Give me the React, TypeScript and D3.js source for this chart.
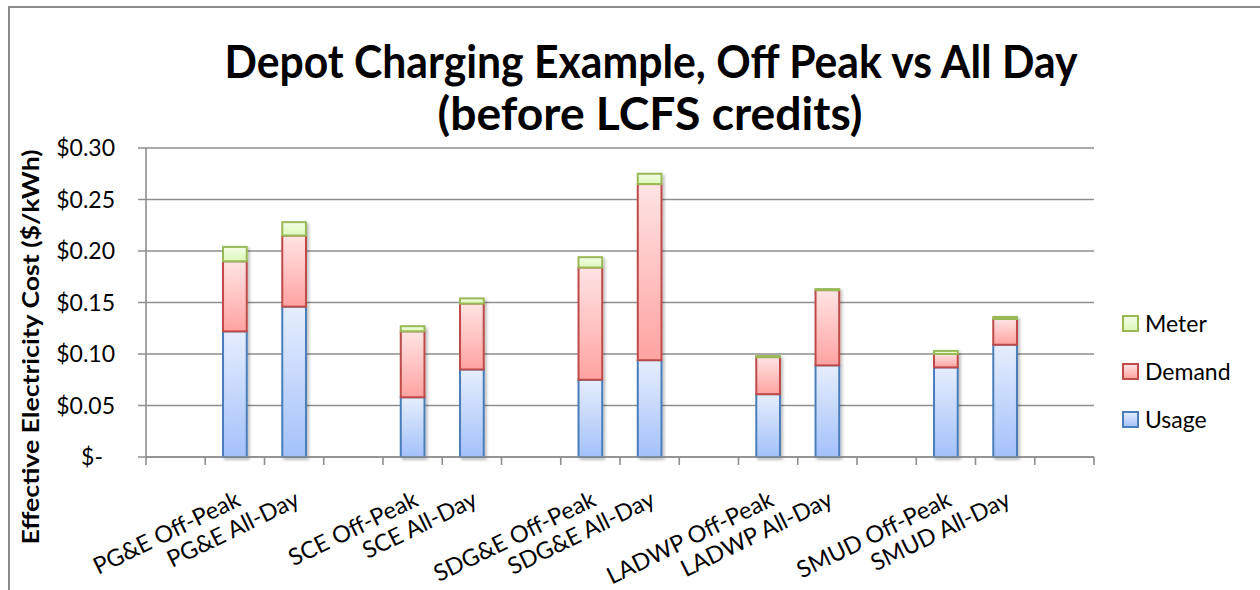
import React, { useEffect, useRef } from 'react';
import * as d3 from 'd3';

// categories, blank ones are the gaps between utilities
const categories = [
  '',
  'PG&E Off-Peak',
  'PG&E All-Day',
  '',
  'SCE Off-Peak',
  'SCE All-Day',
  '',
  'SDG&E Off-Peak',
  'SDG&E All-Day',
  '',
  'LADWP Off-Peak',
  'LADWP All-Day',
  '',
  'SMUD Off-Peak',
  'SMUD All-Day',
  '',
];

const usage = [null, 0.122, 0.146, null, 0.058, 0.085, null, 0.075, 0.094, null, 0.061, 0.089, null, 0.087, 0.109, null];
const demand = [null, 0.068, 0.069, null, 0.064, 0.064, null, 0.109, 0.171, null, 0.036, 0.073, null, 0.013, 0.025, null];
const meter = [null, 0.014, 0.013, null, 0.005, 0.005, null, 0.01, 0.01, null, 0.001, 0.001, null, 0.003, 0.002, null];

const seriesNames = ['Usage', 'Demand', 'Meter'];
const yTicks = [0, 0.05, 0.1, 0.15, 0.2, 0.25, 0.3];

const titleLines = ['Depot Charging Example, Off Peak vs All Day', '(before LCFS credits)'];
const yAxisTitle = 'Effective Electricity Cost ($/kWh)';

const colors = {
  Usage: { stroke: '#4a7ebb', top: '#e6eefd', bottom: '#a3c1fa' },
  Demand: { stroke: '#be4b48', top: '#ffe4e4', bottom: '#ffa3a1' },
  Meter: { stroke: '#98b954', top: '#f3fde8', bottom: '#dcf9b8' },
};

const FONT = "Lato, 'Open Sans', sans-serif";

const App = () => {
  const chartRef = useRef(null);

  useEffect(() => {
    if (!chartRef.current) return;
    d3.select(chartRef.current).selectAll('*').remove();

    const width = 1260;
    const height = 590;
    const plot = { left: 146, right: 1094, top: 148, bottom: 457 };

    const svg = d3
      .select(chartRef.current)
      .append('svg')
      .attr('width', width)
      .attr('height', height)
      .style('display', 'block')
      .style('background', '#ffffff');

    const defs = svg.append('defs');
    seriesNames.forEach((name) => {
      const g = defs
        .append('linearGradient')
        .attr('id', `grad-${name}`)
        .attr('x1', '0%')
        .attr('y1', '0%')
        .attr('x2', '0%')
        .attr('y2', '100%');
      g.append('stop').attr('offset', '0%').attr('stop-color', colors[name].top);
      g.append('stop').attr('offset', '100%').attr('stop-color', colors[name].bottom);
    });

    const shadow = defs
      .append('filter')
      .attr('id', 'bar-shadow')
      .attr('x', '-20%')
      .attr('y', '-20%')
      .attr('width', '150%')
      .attr('height', '150%');
    shadow
      .append('feDropShadow')
      .attr('dx', 2)
      .attr('dy', 2)
      .attr('stdDeviation', 1.5)
      .attr('flood-color', '#000')
      .attr('flood-opacity', 0.25);

    // outer frame (chart is cropped on the right and bottom)
    svg
      .append('path')
      .attr('d', `M9,${height} V7 H${width}`)
      .attr('fill', 'none')
      .attr('stroke', '#8a8a8a')
      .attr('stroke-width', 2);

    // title, squeezed to the width of the original narrow font
    svg
      .append('text')
      .attr('x', 651)
      .attr('y', 78)
      .attr('text-anchor', 'middle')
      .attr('textLength', 853)
      .attr('lengthAdjust', 'spacingAndGlyphs')
      .style('font-family', FONT)
      .style('font-weight', 'bold')
      .style('font-size', '45px')
      .style('fill', '#000')
      .text(titleLines[0]);
    svg
      .append('text')
      .attr('x', 650)
      .attr('y', 130)
      .attr('text-anchor', 'middle')
      .attr('textLength', 425)
      .attr('lengthAdjust', 'spacingAndGlyphs')
      .style('font-family', FONT)
      .style('font-weight', 'bold')
      .style('font-size', '45px')
      .style('fill', '#000')
      .text(titleLines[1]);

    const x = d3
      .scaleBand()
      .domain(categories.map((_, i) => String(i)))
      .range([plot.left, plot.right])
      .paddingInner(0.6)
      .paddingOuter(0.3);

    const y = d3.scaleLinear().domain([0, 0.3]).range([plot.bottom, plot.top]);

    // grid lines
    svg
      .append('g')
      .selectAll('line')
      .data(yTicks)
      .enter()
      .append('line')
      .attr('x1', plot.left - 8)
      .attr('x2', plot.right)
      .attr('y1', (d) => y(d))
      .attr('y2', (d) => y(d))
      .attr('stroke', '#8e8e8e')
      .attr('stroke-width', 1.6);

    // y axis line
    svg
      .append('line')
      .attr('x1', plot.left)
      .attr('x2', plot.left)
      .attr('y1', plot.top)
      .attr('y2', plot.bottom)
      .attr('stroke', '#8e8e8e')
      .attr('stroke-width', 1.6);

    // y tick labels
    svg
      .append('g')
      .selectAll('text')
      .data(yTicks)
      .enter()
      .append('text')
      .attr('x', (d) => (d === 0 ? 103 : 115))
      .attr('y', (d) => y(d))
      .attr('dy', '0.35em')
      .attr('text-anchor', 'end')
      .style('font-family', FONT)
      .style('font-size', '23px')
      .style('fill', '#000')
      .text((d) => (d === 0 ? '$-' : `$${d.toFixed(2)}`));

    // y axis title
    svg
      .append('text')
      .attr('transform', 'translate(39,347) rotate(-90)')
      .attr('text-anchor', 'middle')
      .attr('textLength', 395)
      .attr('lengthAdjust', 'spacingAndGlyphs')
      .style('font-family', FONT)
      .style('font-weight', 'bold')
      .style('font-size', '22px')
      .style('fill', '#000')
      .text(yAxisTitle);

    // stacked bars
    const rows = categories.map((c, i) => ({
      key: String(i),
      Usage: usage[i],
      Demand: demand[i],
      Meter: meter[i],
    }));
    const stacked = d3
      .stack()
      .keys(seriesNames)
      .value((d, key) => d[key] ?? 0)(rows);

    const barsContainer = svg.append('g').attr('filter', 'url(#bar-shadow)');
    stacked.forEach((layer) => {
      barsContainer
        .append('g')
        .selectAll('rect')
        .data(layer.filter((d) => d.data[layer.key] != null))
        .enter()
        .append('rect')
        .attr('x', (d) => x(d.data.key))
        .attr('width', x.bandwidth())
        .attr('y', (d) => y(d[1]))
        .attr('height', (d) => y(d[0]) - y(d[1]))
        .attr('fill', `url(#grad-${layer.key})`)
        .attr('stroke', colors[layer.key].stroke)
        .attr('stroke-width', 2);
    });

    // x axis line and ticks between categories
    svg
      .append('line')
      .attr('x1', plot.left)
      .attr('x2', plot.right)
      .attr('y1', plot.bottom)
      .attr('y2', plot.bottom)
      .attr('stroke', '#8e8e8e')
      .attr('stroke-width', 1.6);
    svg
      .append('g')
      .selectAll('line')
      .data(d3.range(categories.length + 1))
      .enter()
      .append('line')
      .attr('x1', (i) => plot.left + x.step() * i)
      .attr('x2', (i) => plot.left + x.step() * i)
      .attr('y1', plot.bottom)
      .attr('y2', plot.bottom + 8)
      .attr('stroke', '#8e8e8e')
      .attr('stroke-width', 1.6);

    // x labels
    svg
      .append('g')
      .selectAll('text')
      .data(rows.filter((r, i) => categories[i] !== ''))
      .enter()
      .append('text')
      .attr('text-anchor', 'end')
      .attr(
        'transform',
        (d) => `translate(${x(d.key) + x.bandwidth() / 2 + 7},505) rotate(-26)`
      )
      .style('font-family', FONT)
      .style('font-size', '23.5px')
      .style('fill', '#000')
      .text((d) => categories[+d.key]);

    // legend
    const legendItems = ['Meter', 'Demand', 'Usage'];
    const legend = svg
      .append('g')
      .selectAll('g')
      .data(legendItems)
      .enter()
      .append('g')
      .attr('transform', (d, i) => `translate(1123,${323.5 + i * 48})`);
    legend
      .append('rect')
      .attr('x', 0)
      .attr('y', -7.5)
      .attr('width', 15)
      .attr('height', 15)
      .attr('fill', (d) => `url(#grad-${d})`)
      .attr('stroke', (d) => colors[d].stroke)
      .attr('stroke-width', 2);
    legend
      .append('text')
      .attr('x', 22)
      .attr('y', 0)
      .attr('dy', '0.36em')
      .style('font-family', FONT)
      .style('font-size', '23px')
      .style('fill', '#000')
      .text((d) => d);
  }, []);

  return (
    <div
      ref={chartRef}
      style={{ position: 'fixed', left: 0, top: 0, width: 1260, height: 590, background: '#fff' }}
    ></div>
  );
};

export default App;
